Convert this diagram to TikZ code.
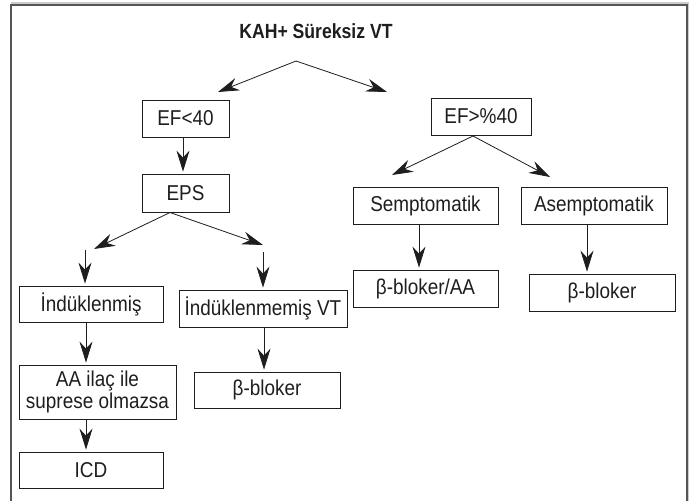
\documentclass[tikz,border=0pt]{standalone}
\usepackage{fontspec}
\setmainfont{Liberation Sans}[FakeStretch=0.88]
\newfontfamily\titlefont{Liberation Sans}[FakeStretch=0.86]
\usetikzlibrary{arrows.meta}
\definecolor{ink}{HTML}{1E1E1E}
\definecolor{framec}{HTML}{555555}
\tikzset{
  box/.style={draw=ink, line width=0.8pt, inner sep=0pt, text=ink,
    font=\fontsize{21.5}{19.5}\selectfont, align=center},
  arr/.style={draw=ink, line width=0.8pt, -{Stealth[length=21pt,width=13pt,inset=7pt]}},
  varr/.style={arr, shorten >=2pt},
}
\begin{document}
\begin{tikzpicture}[x=1pt,y=-1pt]
\useasboundingbox (0,0) rectangle (691,501);
\fill[white] (0,0) rectangle (691,501);
% frame
\draw[line width=1.5pt, draw=black!20] (11,3.2) -- (688.5,3.2) -- (688.5,501);
\draw[line width=1.6pt, draw=framec] (11,501) -- (11,5) -- (687,5) -- (687,501);

% title
\node[text=ink, font=\titlefont\bfseries\fontsize{20.5}{22}\selectfont] (title) at (316,31) {KAH+ Süreksiz VT};

% boxes
\node[box, minimum width=87pt, minimum height=37pt] (ef1) at (185.5,118.5) {EF<40};
\node[box, minimum width=87pt, minimum height=38pt] (eps) at (185.5,193) {EPS};
\node[box, minimum width=144pt, minimum height=36pt] (ind) at (91,304) {İndüklenmiş};
\node[box, minimum width=168pt, minimum height=37pt] (indvt) at (263,308.5) {İndüklenmemiş VT};
\node[box, minimum width=157pt, minimum height=54pt] (aa) at (97.5,392) {AA ilaç ile\\suprese olmazsa};
\node[box, minimum width=144pt, minimum height=36pt] (icd) at (91,470) {ICD};
\node[box, minimum width=146pt, minimum height=36pt] (bb1) at (267,390) {β-bloker};
\node[box, minimum width=100pt, minimum height=37pt] (ef2) at (481,116.5) {EF>\%40};
\node[box, minimum width=145pt, minimum height=37pt] (semp) at (425.5,205.5) {Semptomatik};
\node[box, minimum width=146pt, minimum height=37pt] (asemp) at (594,205.5) {Asemptomatik};
\node[box, minimum width=145pt, minimum height=37pt] (bbaa) at (425.5,288.5) {β-bloker/AA};
\node[box, minimum width=146pt, minimum height=37pt] (bb2) at (602,292.5) {β-bloker};

% free ends
\coordinate (c0) at (296,61);
\coordinate (t0l) at (218,92);
\coordinate (t0r) at (387,92);
\coordinate (c1) at (170,212.5);
\coordinate (t1l) at (94,249);
\coordinate (t1r) at (263,245);
\coordinate (v1) at (85,250);
\coordinate (v2) at (263,252);
\coordinate (c2) at (473,136);
\coordinate (t2l) at (392,175);
\coordinate (t2r) at (550,177);
\coordinate (xa) at (86,0);
\coordinate (xb) at (264,0);
\coordinate (xc) at (183,0);
\coordinate (xd) at (419,0);
\coordinate (xe) at (587,0);

% connectors
\draw[arr] (c0) -- (t0l);
\draw[arr] (c0) -- (t0r);
\draw[varr] (ef1.south -| xc) -- (eps.north -| xc);
\draw[arr] (c1) -- (t1l);
\draw[arr] (c1) -- (t1r);
\draw[varr] (v1) -- (v1 |- ind.north);
\draw[varr] (v2) -- (v2 |- indvt.north);
\draw[varr] (ind.south -| xa) -- (aa.north -| xa);
\draw[varr] (aa.south -| xa) -- (icd.north -| xa);
\draw[varr] (indvt.south -| xb) -- (bb1.north -| xb);
\draw[arr] (c2) -- (t2l);
\draw[arr] (c2) -- (t2r);
\draw[varr] (semp.south -| xd) -- (bbaa.north -| xd);
\draw[varr] (asemp.south -| xe) -- (bb2.north -| xe);
\end{tikzpicture}
\end{document}
